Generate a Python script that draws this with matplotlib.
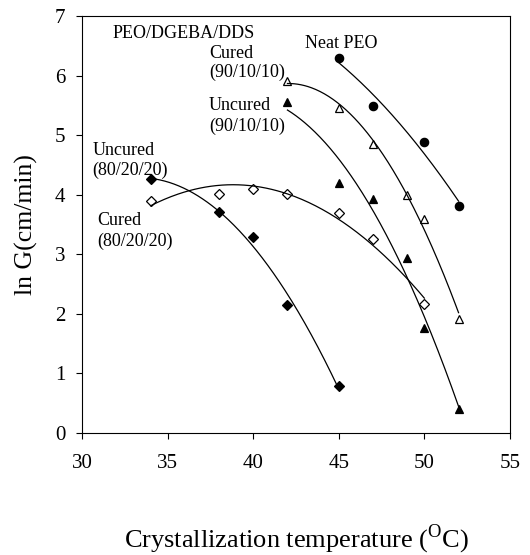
import numpy as np
import matplotlib
matplotlib.use("Agg")
import matplotlib.pyplot as plt

plt.rcParams['font.family'] = ['Liberation Serif', 'DejaVu Serif']
plt.rcParams['mathtext.fontset'] = 'custom'
plt.rcParams['mathtext.rm'] = 'Liberation Serif'

# data
neat_T = [45, 47, 50, 52]
neat_G = [6.30, 5.49, 4.88, 3.81]

cured90_T = [42, 45, 47, 49, 50, 52]
cured90_G = [5.91, 5.46, 4.85, 3.99, 3.60, 1.92]

uncured90_T = [42, 45, 47, 49, 50, 52]
uncured90_G = [5.55, 4.20, 3.92, 2.93, 1.76, 0.40]

uncured80_T = [34, 38, 40, 42, 45]
uncured80_G = [4.26, 3.71, 3.29, 2.14, 0.79]

cured80_T = [34, 38, 40, 42, 45, 47, 50]
cured80_G = [3.90, 4.02, 4.09, 4.01, 3.70, 3.25, 2.16]

fig = plt.figure(figsize=(5.3, 5.55), dpi=100)
ax = fig.add_axes([0.155, 0.22, 0.807, 0.751])

series = [
    (neat_T, neat_G, 'o', 'k'),
    (cured90_T, cured90_G, '^', 'none'),
    (uncured90_T, uncured90_G, '^', 'k'),
    (uncured80_T, uncured80_G, 'D', 'k'),
    (cured80_T, cured80_G, 'D', 'none'),
]

for T, G, marker, fc in series:
    # quadratic trend line over the measured range
    coef = np.polyfit(T, G, 2)
    xs = np.linspace(min(T), max(T), 200)
    ax.plot(xs, np.polyval(coef, xs), color='k', lw=0.9)
    ms = 6 if marker != 'D' else 5
    ax.plot(T, G, linestyle='none', marker=marker, markersize=ms,
            markerfacecolor=fc, markeredgecolor='k', markeredgewidth=0.9)

ax.set_xlim(30, 55)
ax.set_ylim(0, 7)
ax.set_xticks(range(30, 56, 5))
ax.set_yticks(range(0, 8))
ax.tick_params(direction='out', length=4, width=0.8, labelsize=15,
               top=False, right=False)
ax.tick_params(axis='x', pad=11)
ax.tick_params(axis='y', pad=8)
for s in ax.spines.values():
    s.set_linewidth(0.8)

ax.set_xlabel('Crystallization temperature ($^{\\mathrm{O}}$C)', fontsize=19, labelpad=36)
ax.set_ylabel('ln G(cm/min)', fontsize=18.5, labelpad=12)

fs = 13
ax.text(31.8, 6.71, 'PEO/DGEBA/DDS', fontsize=fs, va='center')
ax.text(43.0, 6.54, 'Neat PEO', fontsize=fs, va='center')
ax.text(37.4, 6.38, 'Cured', fontsize=fs, va='center')
ax.text(37.4, 6.06, '(90/10/10)', fontsize=fs, va='center')
ax.text(37.4, 5.50, 'Uncured', fontsize=fs, va='center')
ax.text(37.4, 5.15, '(90/10/10)', fontsize=fs, va='center')
ax.text(30.6, 4.75, 'Uncured', fontsize=fs, va='center')
ax.text(30.6, 4.41, '(80/20/20)', fontsize=fs, va='center')
ax.text(30.9, 3.56, 'Cured', fontsize=fs, va='center')
ax.text(30.9, 3.22, '(80/20/20)', fontsize=fs, va='center')

fig.savefig('out.png', dpi=100)
